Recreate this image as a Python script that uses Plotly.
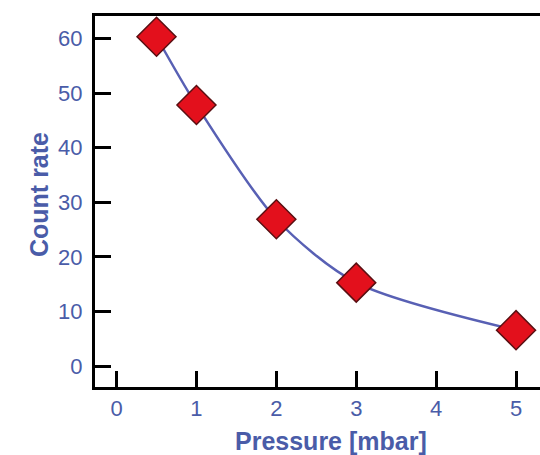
import plotly.graph_objects as go

pressure = [0.5, 1, 2, 3, 5]
count_rate = [60.3, 47.8, 26.9, 15.3, 6.6]
x_ticks = [0, 1, 2, 3, 4, 5]
y_ticks = [0, 10, 20, 30, 40, 50, 60]

blue_text = "#4a5ca8"
font_family = "Liberation Sans, Arial, sans-serif"

fig = go.Figure()
fig.add_trace(go.Scatter(
    x=pressure, y=count_rate, mode="lines",
    line=dict(color="#5860b4", width=2.5, shape="spline", smoothing=0.8),
    hoverinfo="skip", showlegend=False))
fig.add_trace(go.Scatter(
    x=pressure, y=count_rate, mode="markers",
    marker=dict(symbol="diamond", size=30, color="#e3101c",
                line=dict(color="#5a0f12", width=1.5)),
    showlegend=False))

fig.update_layout(
    width=540, height=455,
    margin=dict(l=95, r=0, t=16, b=68),
    paper_bgcolor="white", plot_bgcolor="white",
    font=dict(family=font_family, color=blue_text, size=22),
    xaxis=dict(range=[-0.27, 5.3], tickvals=x_ticks, ticks="inside",
               ticklen=16, tickwidth=3, tickcolor="black",
               showline=True, linecolor="black", linewidth=3, mirror=True,
               showgrid=False, zeroline=False,
               tickfont=dict(size=22, color=blue_text)),
    yaxis=dict(range=[-3.8, 64.1], tickvals=y_ticks, ticks="inside",
               ticklen=16, tickwidth=3, tickcolor="black",
               showline=True, linecolor="black", linewidth=3, mirror=False,
               showgrid=False, zeroline=False, ticklabelstandoff=5,
               tickfont=dict(size=22, color=blue_text)),
    annotations=[
        dict(text="<b>Pressure [mbar]</b>", xref="paper", yref="paper",
             x=(331 - 95) / 445, y=-0.19, showarrow=False,
             font=dict(size=25, color=blue_text, family=font_family)),
        dict(text="<b>Count rate</b>", xref="paper", yref="paper",
             x=(23 - 95) / 445, y=(387 - 195) / 371, textangle=-90,
             showarrow=False,
             font=dict(size=25, color=blue_text, family=font_family)),
    ],
)

fig.write_html("out.html")
